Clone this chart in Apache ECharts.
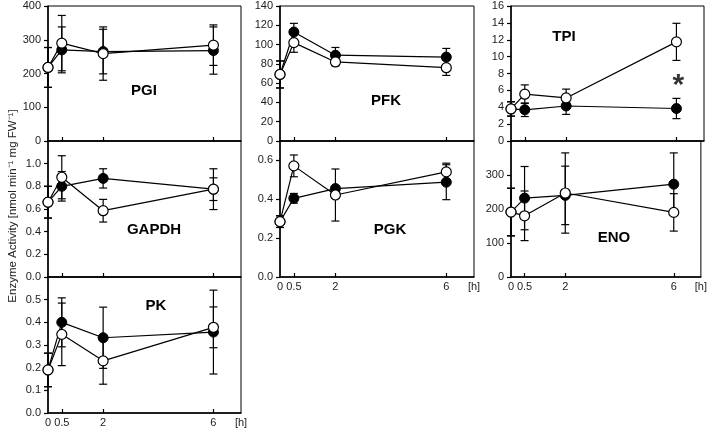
<!DOCTYPE html>
<html>
<head>
<meta charset="utf-8">
<script src="https://cdn.jsdelivr.net/npm/echarts@6/dist/echarts.min.js"></script>
<style>
html,body{margin:0;padding:0;background:#fff;}
#chart{width:710px;height:428px;}
</style>
</head>
<body>
<div id="chart"></div>
<script>
// time points [h]
const times = [0, 0.5, 2, 6];
const xTickValues = [0.5, 2, 6];
const xLabelValues = [0, 0.5, 2, 6, 7];
const xUnitLabel = '[h]';

// PGI
const pgiFilled = [218, 270, 265, 268];
const pgiFilledErr = [59, 68, 66, 70];
const pgiOpen = [218, 290, 259, 284];
const pgiOpenErr = [59, 82, 79, 60];
const pgiTicks = [0, 100, 200, 300, 400];

// GAPDH
const gapdhFilled = [0.66, 0.80, 0.87, 0.775];
const gapdhFilledErr = [0.14, 0.13, 0.085, 0.10];
const gapdhOpen = [0.66, 0.88, 0.585, 0.775];
const gapdhOpenErr = [0.14, 0.19, 0.10, 0.18];
const gapdhTicks = [0, 0.2, 0.4, 0.6, 0.8, 1.0];

// PK
const pkFilled = [0.19, 0.40, 0.332, 0.357];
const pkFilledErr = [0.074, 0.108, 0.135, 0.185];
const pkOpen = [0.19, 0.347, 0.23, 0.378];
const pkOpenErr = [0.074, 0.138, 0.103, 0.09];
const pkTicks = [0, 0.1, 0.2, 0.3, 0.4, 0.5];

// PFK
const pfkFilled = [69, 113, 89, 87];
const pfkFilledErr = [14, 9, 8, 9];
const pfkOpen = [69, 102, 82, 76];
const pfkOpenErr = [14, 10, 4, 8];
const pfkTicks = [0, 20, 40, 60, 80, 100, 120, 140];

// PGK
const pgkFilled = [0.285, 0.405, 0.455, 0.488];
const pgkFilledErr = [0.03, 0.025, 0.015, 0.09];
const pgkOpen = [0.285, 0.572, 0.422, 0.541];
const pgkOpenErr = [0.03, 0.056, 0.134, 0.045];
const pgkTicks = [0, 0.2, 0.4, 0.6];

// TPI
const tpiFilled = [3.8, 3.7, 4.15, 3.85];
const tpiFilledErr = [0.85, 0.8, 1.0, 1.2];
const tpiOpen = [3.8, 5.55, 5.1, 11.75];
const tpiOpenErr = [0.85, 1.1, 1.05, 2.2];
const tpiTicks = [0, 2, 4, 6, 8, 10, 12, 14, 16];
const tpiStar = [6, 7.0];

// ENO
const enoFilled = [191, 232, 240, 273];
const enoFilledErr = [70, 93, 86, 92];
const enoOpen = [191, 180, 247, 190];
const enoOpenErr = [70, 73, 118, 55];
const enoTicks = [0, 100, 200, 300];

const yTitle = 'Enzyme Activity [nmol min\u207B\u00B9 mg FW\u207B\u00B9]';

const FONT = '"Liberation Sans", Arial, Helvetica, sans-serif';

const panels = [
  {name:'PGI', f:pgiFilled, fe:pgiFilledErr, o:pgiOpen, oe:pgiOpenErr, yMax:400, ticks:pgiTicks, dec:0, xl:false,
   grid:{left:48, top:6, width:193, height:135}, title:[144, 91]},
  {name:'GAPDH', f:gapdhFilled, fe:gapdhFilledErr, o:gapdhOpen, oe:gapdhOpenErr, yMax:1.2, ticks:gapdhTicks, dec:1, xl:false,
   grid:{left:48, top:141, width:193, height:136}, title:[154, 230]},
  {name:'PK', f:pkFilled, fe:pkFilledErr, o:pkOpen, oe:pkOpenErr, yMax:0.6, ticks:pkTicks, dec:1, xl:true,
   grid:{left:48, top:277, width:193, height:136}, title:[156, 306]},
  {name:'PFK', f:pfkFilled, fe:pfkFilledErr, o:pfkOpen, oe:pfkOpenErr, yMax:140, ticks:pfkTicks, dec:0, xl:false,
   grid:{left:280, top:6, width:194, height:135}, title:[386, 101]},
  {name:'PGK', f:pgkFilled, fe:pgkFilledErr, o:pgkOpen, oe:pgkOpenErr, yMax:0.7, ticks:pgkTicks, dec:1, xl:true,
   grid:{left:280, top:141, width:194, height:136}, title:[390, 230]},
  {name:'TPI', f:tpiFilled, fe:tpiFilledErr, o:tpiOpen, oe:tpiOpenErr, yMax:16, ticks:tpiTicks, dec:0, xl:false,
   grid:{left:511, top:6, width:193, height:135}, title:[564, 37]},
  {name:'ENO', f:enoFilled, fe:enoFilledErr, o:enoOpen, oe:enoOpenErr, yMax:400, ticks:enoTicks, dec:0, xl:true,
   grid:{left:511, top:141, width:193, height:136}, title:[614, 238]}
];

function errRender(params, api) {
  const x = api.value(0), y = api.value(1), e = api.value(2);
  const t = api.coord([x, y + e]);
  const b = api.coord([x, y - e]);
  const w = 4;
  const st = {stroke:'#000', lineWidth:1.2};
  return {type:'group', children:[
    {type:'line', shape:{x1:t[0], y1:t[1], x2:b[0], y2:b[1]}, style:st},
    {type:'line', shape:{x1:t[0]-w, y1:t[1], x2:t[0]+w, y2:t[1]}, style:st},
    {type:'line', shape:{x1:b[0]-w, y1:b[1], x2:b[0]+w, y2:b[1]}, style:st}
  ]};
}

const grids = [], xAxes = [], yAxes = [], series = [], graphics = [];

panels.forEach((p, i) => {
  grids.push(Object.assign({show:true, borderColor:'#000', borderWidth:1, backgroundColor:'transparent'}, p.grid));
  xAxes.push({
    type:'value', gridIndex:i, min:0, max:7,
    axisLine:{show:true, onZero:false, lineStyle:{color:'#000', width:1.5}},
    axisTick:{show:true, inside:true, length:4, customValues:xTickValues, lineStyle:{color:'#000', width:1.2}},
    axisLabel:{show:p.xl, customValues:xLabelValues, margin:4, fontSize:11, color:'#222', fontFamily:FONT,
      formatter:(v) => v === 7 ? xUnitLabel : String(v)},
    splitLine:{show:false}
  });
  yAxes.push({
    type:'value', gridIndex:i, min:0, max:p.yMax,
    axisLine:{show:true, onZero:false, lineStyle:{color:'#000', width:1.5}},
    axisTick:{show:true, inside:false, length:4, customValues:p.ticks, lineStyle:{color:'#000', width:1.2}},
    axisLabel:{show:true, customValues:p.ticks, margin:7, fontSize:11, color:'#222', fontFamily:FONT,
      formatter:(v) => v.toFixed(p.dec)},
    splitLine:{show:false}
  });
  series.push({
    type:'custom', xAxisIndex:i, yAxisIndex:i, renderItem:errRender, z:1, silent:true,
    data: times.map((t, k) => [t, p.f[k], p.fe[k]]), encode:{x:0, y:1}
  });
  series.push({
    type:'custom', xAxisIndex:i, yAxisIndex:i, renderItem:errRender, z:1, silent:true,
    data: times.map((t, k) => [t, p.o[k], p.oe[k]]), encode:{x:0, y:1}
  });
  series.push({
    type:'line', xAxisIndex:i, yAxisIndex:i, z:3, silent:true,
    data: times.map((t, k) => [t, p.f[k]]),
    symbol:'circle', symbolSize:10, showSymbol:true,
    lineStyle:{color:'#000', width:1.2},
    itemStyle:{color:'#000', borderColor:'#000', borderWidth:1}
  });
  series.push({
    type:'line', xAxisIndex:i, yAxisIndex:i, z:4, silent:true,
    data: times.map((t, k) => [t, p.o[k]]),
    symbol:'circle', symbolSize:10, showSymbol:true,
    lineStyle:{color:'#000', width:1.2},
    itemStyle:{color:'#fff', borderColor:'#000', borderWidth:1.2}
  });
  graphics.push({
    type:'text', x:p.title[0], y:p.title[1], z:10,
    style:{text:p.name, font:'bold 15px ' + FONT, fill:'#000', textAlign:'center', textVerticalAlign:'middle'}
  });
  if (p.name === 'TPI') {
    series.push({
      type:'scatter', xAxisIndex:i, yAxisIndex:i, z:5, silent:true,
      data:[tpiStar], symbolSize:1, itemStyle:{color:'transparent'},
      label:{show:true, position:'inside', formatter:'*', fontSize:30, fontWeight:'bold', color:'#000',
        fontFamily:FONT, offset:[2, 4]}
    });
  }
});

graphics.push({
  type:'text', x:13, y:206, rotation:Math.PI/2, z:10,
  style:{text:yTitle, font:'11.5px ' + FONT, fill:'#222', textAlign:'center', textVerticalAlign:'middle'}
});

const chart = echarts.init(document.getElementById('chart'), null, {renderer:'canvas'});
chart.setOption({
  animation:false,
  backgroundColor:'#fff',
  grid:grids, xAxis:xAxes, yAxis:yAxes, series:series, graphic:graphics
});
</script>
</body>
</html>
